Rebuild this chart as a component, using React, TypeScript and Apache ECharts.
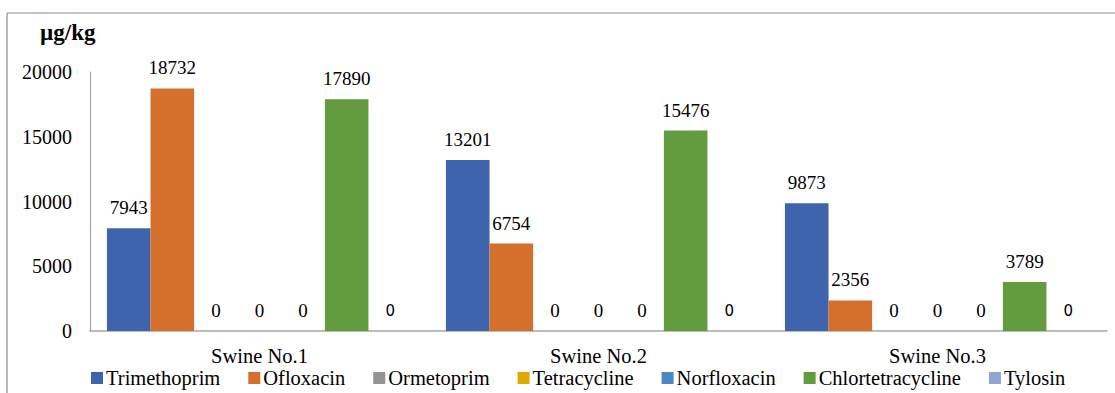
import React, { useEffect, useRef } from "react";
import * as echarts from "echarts";

const categories = ["Swine No.1", "Swine No.2", "Swine No.3"];
const seriesNames = [
  "Trimethoprim",
  "Ofloxacin",
  "Ormetoprim",
  "Tetracycline",
  "Norfloxacin",
  "Chlortetracycline",
  "Tylosin",
];
const trimethoprim = [7943, 13201, 9873];
const ofloxacin = [18732, 6754, 2356];
const ormetoprim = [0, 0, 0];
const tetracycline = [0, 0, 0];
const norfloxacin = [0, 0, 0];
const chlortetracycline = [17890, 15476, 3789];
const tylosin = [0, 0, 0];
const colors = ["#3E64AD", "#D4702B", "#939393", "#E0A800", "#4A86C0", "#629C3E", "#8FA5D6"];
const yTicks = [0, 5000, 10000, 15000, 20000];

const SERIF = "Liberation Serif";
const SANS = "DejaVu Sans";

export default function App() {
  const ref = useRef<HTMLDivElement>(null);
  useEffect(() => {
    document.body.style.margin = "0";
    const chart = echarts.init(ref.current!, null, { renderer: "svg" });
    const data = [trimethoprim, ofloxacin, ormetoprim, tetracycline, norfloxacin, chlortetracycline, tylosin];
    chart.setOption({
      animation: false,
      color: colors,
      textStyle: { fontFamily: SERIF },
      grid: { left: 90, right: 8, top: 72, bottom: 62, containLabel: false },
      graphic: [
        { type: "line", shape: { x1: 7, y1: 13, x2: 1115, y2: 13 }, style: { stroke: "#8c8c8c", lineWidth: 1.2 } },
        { type: "line", shape: { x1: 7, y1: 13, x2: 7, y2: 393 }, style: { stroke: "#8c8c8c", lineWidth: 1.2 } },
        {
          type: "text",
          x: 40,
          y: 32,
          style: {
            text: "µg/kg",
            fontSize: 23,
            fontWeight: "bold",
            fontFamily: SERIF,
            fill: "#000",
            verticalAlign: "middle",
          },
        },
      ],
      legend: {
        data: seriesNames,
        left: 91,
        top: 367,
        padding: 0,
        itemWidth: 12,
        itemHeight: 12,
        itemGap: 28,
        icon: "rect",
        textStyle: { fontSize: 20.5, lineHeight: 22, fontFamily: SERIF, color: "#000", padding: [0, 0, 0, -2] },
      },
      xAxis: {
        type: "category",
        data: categories,
        axisLine: { lineStyle: { color: "#a6a6a6", width: 1.5 } },
        axisTick: { show: false },
        axisLabel: { fontSize: 20.5, fontFamily: SERIF, color: "#000", margin: 14 },
      },
      yAxis: {
        type: "value",
        min: yTicks[0],
        max: yTicks[yTicks.length - 1],
        interval: 5000,
        axisLine: { show: true, lineStyle: { color: "#a6a6a6", width: 1.2 } },
        axisTick: { show: false },
        splitLine: { show: false },
        axisLabel: {
          fontSize: 20,
          fontFamily: SERIF,
          color: "#000",
          margin: 18,
          formatter: (v: number) => String(v),
        },
      },
      series: seriesNames.map((name, i) => ({
        name,
        type: "bar",
        data: data[i],
        barGap: "0%",
        barCategoryGap: "10%",
        label: {
          show: true,
          position: "top",
          distance: i === 6 ? 13 : 11,
          color: "#000",
          fontSize: i === 6 ? 15 : 19,
          fontFamily: i === 6 ? SANS : SERIF,
        },
      })),
    });
    return () => chart.dispose();
  }, []);
  return <div ref={ref} style={{ width: 1115, height: 393 }} />;
}
